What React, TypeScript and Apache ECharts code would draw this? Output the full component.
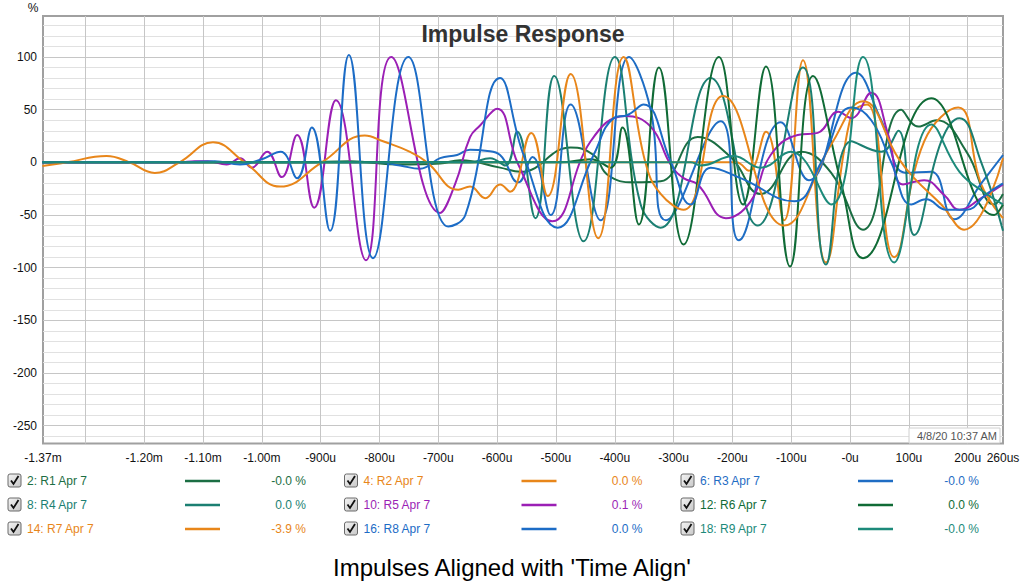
import React, { useEffect, useRef } from "react";
import * as echarts from "echarts";

const FONT = '"Liberation Sans", Arial, sans-serif';

const seriesNames = [
  "2: R1 Apr 7", "4: R2 Apr 7", "6: R3 Apr 7",
  "8: R4 Apr 7", "10: R5 Apr 7", "12: R6 Apr 7",
  "14: R7 Apr 7", "16: R8 Apr 7", "18: R9 Apr 7",
];
const seriesColors = [
  "#1b6e43", "#e8861a", "#1f6dc4",
  "#1b7f72", "#9b1fb5", "#106b36",
  "#e8861a", "#1c6cc6", "#1c8a7a",
];
const seriesValues = [
  "-0.0 %", "0.0 %", "-0.0 %",
  "0.0 %", "0.1 %", "0.0 %",
  "-3.9 %", "0.0 %", "-0.0 %",
];

// time in microseconds, amplitude in %
const r1 = [[-1373,0],[-935,0],[-850,1],[-765,-2],[-697,-1],[-663,2],[-595,-5],[-560,-9],[-475,14],[-436,7],[-412,-12],[-368,-19],[-322,-18],[-259,24],[-203,5],[-152,-30],[-83,10],[-32,-10],[22,-64],[87,50],[116,34],[147,40],[198,10],[245,-40],[260,-30]];
const r2 = [[-1373,0],[-194,0],[-172,-8],[-143,29],[-112,-55],[-80,97],[-41,-95],[2,45],[29,55],[75,-90],[126,20],[184,52],[223,-21],[260,-53]];
const r3 = [[-1373,0],[-799,0],[-765,-3],[-731,-6],[-697,4],[-668,7],[-646,12],[-620,11],[-595,7],[-564,-19],[-540,5],[-509,-50],[-475,55],[-424,-55],[-376,100],[-339,50],[-313,-55],[-220,39],[-189,-74],[-118,38],[-70,-17],[10,85],[53,40],[95,-10],[138,-9],[177,-54],[223,-20],[260,7]];
const r4 = [[-1373,0],[-646,0],[-612,4],[-586,-3],[-566,29],[-535,-53],[-503,82],[-453,-75],[-400,100],[-356,-40],[-322,-62],[-237,80],[-157,-60],[-80,90],[-41,-97],[2,20],[53,10],[82,30],[109,-69],[155,20],[186,42],[223,0],[260,-65]];
const r5 = [[-1373,0],[-1140,0],[-1114,1],[-1092,1],[-1060,-2],[-1037,4],[-1017,-5],[-991,10],[-966,-14],[-940,26],[-911,-43],[-874,59],[-823,-93],[-780,100],[-697,-48],[-671,-20],[-646,24],[-629,35],[-600,51],[-564,-2],[-506,-56],[-441,20],[-382,44],[-339,34],[-305,-2],[-283,-15],[-259,-21],[-211,-53],[-169,-37],[-135,7],[-89,26],[-55,28],[-20,48],[2,42],[36,66],[65,26],[90,-21],[126,-17],[160,-31],[186,-45],[223,-34],[260,-21]];
const r6 = [[-1373,0],[-492,0],[-441,3],[-407,-5],[-387,33],[-359,-59],[-325,90],[-283,-78],[-223,100],[-182,-40],[-143,91],[-102,-99],[-63,82],[-15,-20],[22,-91],[138,61],[245,-50],[260,-40]];
const r7 = [[-1373,-3.4],[-1332,0],[-1264,6],[-1225,0],[-1182,-10],[-1140,0],[-1083,19],[-1029,0],[-969,-23],[-898,0],[-825,25.5],[-794,20],[-748,10],[-719,0],[-666,-26],[-646,-23],[-620,-34],[-595,-21],[-578,-28],[-542,28],[-514,-32],[-475,84],[-428,-72],[-385,100],[-348,0],[-322,-30],[-283,-45],[-216,63],[-112,-60],[-32,17],[22,58],[82,4],[109,-15],[155,-40],[194,-64],[260,4]];
const r8 = [[-1373,0],[-1140,0],[-1080,1],[-1037,-2],[-1000,3],[-968,10],[-940,-15],[-915,33],[-884,-65],[-852,102],[-811,-91],[-751,100],[-683,-61],[-654,-50],[-595,80],[-555,7],[-497,-62],[-436,7],[-402,42],[-378,45],[-351,55],[-305,1],[-271,-40],[-237,-5],[-186,-15],[-95,-37],[-49,0],[2,52],[36,40],[70,0],[104,-40],[129,-35],[164,-45],[198,-45],[232,-30],[260,-20]];
const r9 = [[-1373,0],[-271,0],[-254,-3],[-198,6],[-152,-5],[-101,10],[-32,-40],[22,100],[75,-95],[138,36],[186,-9],[232,-30],[260,-40]];
const seriesData = [r1, r2, r3, r4, r5, r6, r7, r8, r9];

const xMin = -1372;
const xMax = 260;
const xGridValues = [-1300, -1200, -1100, -1000, -900, -800, -700, -600, -500, -400, -300, -200, -100, 0, 100, 200];
const xLabelValues = [-1372, -1200, -1100, -1000, -900, -800, -700, -600, -500, -400, -300, -200, -100, 0, 100, 200, 260];
const xLabelTexts = ["-1.37m", "-1.20m", "-1.10m", "-1.00m", "-900u", "-800u", "-700u", "-600u", "-500u", "-400u", "-300u", "-200u", "-100u", "-0u", "100u", "200u", "260us"];

const yMin = -267;
const yMax = 139;
const yLabelValues = [-250, -200, -150, -100, -50, 0, 50, 100];
const yMinorStep = 10;

const titleText = "Impulse Response";
const unitText = "%";
const stampText = "4/8/20 10:37 AM";
const captionText = "Impulses Aligned with 'Time Align'";

function buildMinor(): number[] {
  const out: number[] = [];
  for (let v = -260; v <= 130; v += yMinorStep) {
    if (v % 50 !== 0) out.push(v);
  }
  return out;
}

function buildLegend(): any[] {
  const els: any[] = [];
  seriesNames.forEach((name, i) => {
    const row = Math.floor(i / 3);
    const col = i % 3;
    const bx = 8 + col * 336.5;
    const cy = 481 + row * 24;
    els.push({
      type: "rect",
      shape: { x: bx, y: cy - 7, width: 13, height: 13, r: 2 },
      style: {
        fill: new echarts.graphic.LinearGradient(0, 0, 1, 1, [
          { offset: 0, color: "#f4f4f4" },
          { offset: 1, color: "#c8c8c8" },
        ]),
        stroke: "#6a6a6a",
        lineWidth: 1,
      },
    });
    els.push({
      type: "polyline",
      shape: { points: [[bx + 3, cy - 0.5], [bx + 5.5, cy + 3], [bx + 10.5, cy - 5]] },
      style: { stroke: "#111", lineWidth: 1.8, fill: null },
    });
    els.push({
      type: "text",
      x: bx + 19,
      y: cy,
      style: {
        text: name,
        fill: seriesColors[i],
        font: `12px ${FONT}`,
        textAlign: "left",
        align: "left",
        textVerticalAlign: "middle",
        verticalAlign: "middle",
      },
    });
    els.push({
      type: "line",
      shape: { x1: bx + 177, y1: cy, x2: bx + 212, y2: cy },
      style: { stroke: seriesColors[i], lineWidth: 2.5 },
    });
    els.push({
      type: "text",
      x: bx + 298,
      y: cy,
      style: {
        text: seriesValues[i],
        fill: seriesColors[i],
        font: `12px ${FONT}`,
        textAlign: "right",
        align: "right",
        textVerticalAlign: "middle",
        verticalAlign: "middle",
      },
    });
  });
  return els;
}

export default function App() {
  const ref = useRef<HTMLDivElement>(null);
  useEffect(() => {
    if (!ref.current) return;
    const chart = echarts.init(ref.current, null, { renderer: "svg" });
    const option: any = {
      animation: false,
      backgroundColor: "#ffffff",
      grid: {
        left: 43,
        top: 16,
        right: 21,
        bottom: 142.5,
        show: true,
        backgroundColor: "#ffffff",
        borderColor: "#a0a0a0",
        borderWidth: 2,
        containLabel: false,
        outerBoundsMode: "none",
      },
      xAxis: {
        type: "value",
        min: xMin,
        max: xMax,
        axisLine: { show: false },
        axisTick: { show: false, customValues: xGridValues },
        splitLine: { show: true, lineStyle: { color: "#c6c6c6", width: 1 } },
        axisLabel: {
          customValues: xLabelValues,
          formatter: (v: number) => {
            const idx = xLabelValues.findIndex((t) => Math.abs(t - v) < 0.5);
            return idx >= 0 ? xLabelTexts[idx] : "";
          },
          color: "#111",
          fontSize: 12,
          fontFamily: FONT,
          margin: 8,
        },
      },
      yAxis: [
        {
          type: "value",
          min: yMin,
          max: yMax,
          position: "right",
          axisLine: { show: false },
          axisTick: { show: false, customValues: buildMinor() },
          splitLine: { show: true, lineStyle: { color: "#e1e1e1", width: 1 } },
          axisLabel: { show: false },
        },
        {
          type: "value",
          min: yMin,
          max: yMax,
          position: "left",
          axisLine: { show: false },
          axisTick: { show: false, customValues: yLabelValues },
          splitLine: { show: true, lineStyle: { color: "#c6c6c6", width: 1 } },
          axisLabel: {
            customValues: yLabelValues,
            color: "#111",
            fontSize: 12,
            fontFamily: FONT,
            margin: 6,
          },
        },
      ],
      series: seriesData.map((d, i) => ({
        name: seriesNames[i],
        type: "line",
        yAxisIndex: 0,
        data: d,
        showSymbol: false,
        smooth: 0.45,
        lineStyle: { color: seriesColors[i], width: 2 },
        itemStyle: { color: seriesColors[i] },
        z: 3 + i,
      })),
      graphic: [
        {
          type: "text",
          x: 523,
          y: 34,
          z: 100,
          style: {
            text: titleText,
            fill: "#333",
            font: `bold 23px ${FONT}`,
            textAlign: "center",
            align: "center",
            textVerticalAlign: "middle",
            verticalAlign: "middle",
          },
        },
        {
          type: "text",
          x: 33,
          y: 8,
          style: {
            text: unitText,
            fill: "#111",
            font: `12px ${FONT}`,
            textAlign: "center",
            align: "center",
            textVerticalAlign: "middle",
            verticalAlign: "middle",
          },
        },
        {
          type: "rect",
          z: 100,
          shape: { x: 909, y: 428, width: 91, height: 15 },
          style: { fill: "#ffffff", stroke: "#d0d0d0", lineWidth: 1 },
        },
        {
          type: "text",
          x: 997,
          y: 436,
          z: 101,
          style: {
            text: stampText,
            fill: "#555",
            font: `11px ${FONT}`,
            textAlign: "right",
            align: "right",
            textVerticalAlign: "middle",
            verticalAlign: "middle",
          },
        },
        {
          type: "text",
          x: 512,
          y: 567,
          style: {
            text: captionText,
            fill: "#000",
            font: `24px ${FONT}`,
            textAlign: "center",
            align: "center",
            textVerticalAlign: "middle",
            verticalAlign: "middle",
          },
        },
        ...buildLegend(),
      ],
    };
    chart.setOption(option);
    return () => chart.dispose();
  }, []);
  return (
    <div
      ref={ref}
      style={{ position: "fixed", left: 0, top: 0, width: 1024, height: 586, background: "#fff" }}
    />
  );
}
